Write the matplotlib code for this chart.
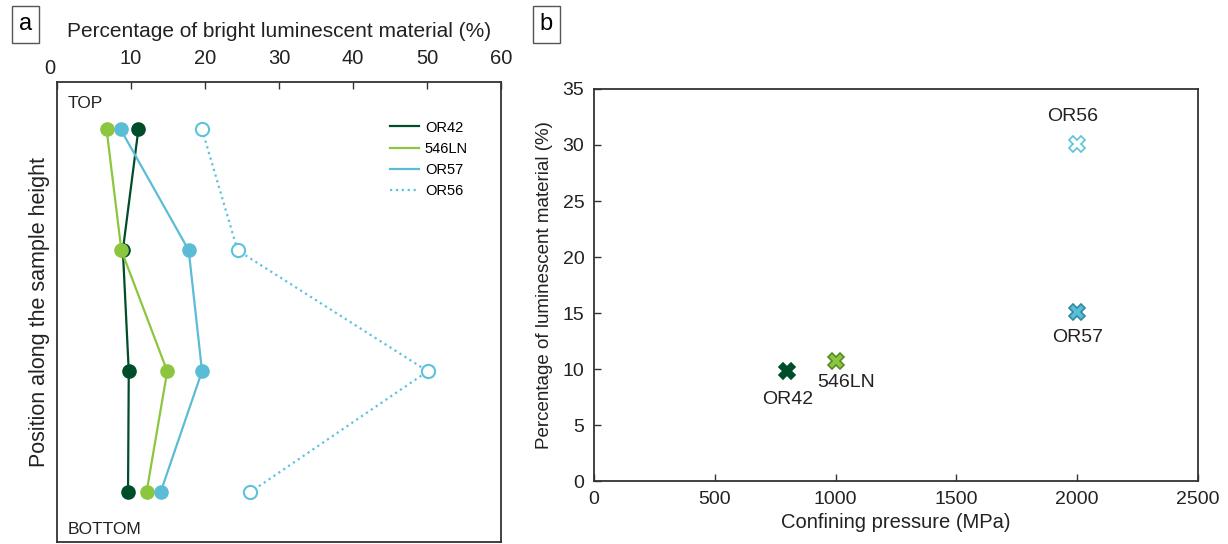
import matplotlib.pyplot as plt

plt.rcParams['font.family'] = ['Liberation Sans', 'DejaVu Sans']

# panel a: bright luminescent material along the sample height (top -> bottom)
positions = [0, 1, 2, 3]
or42_a = [11.0, 8.9, 9.7, 9.6]
ln546_a = [6.7, 8.7, 14.9, 12.1]
or57_a = [8.6, 17.8, 19.6, 14.0]
or56_a = [19.6, 24.4, 50.1, 26.1]

# panel b: mean percentage vs confining pressure
samples = ["OR42", "546LN", "OR57", "OR56"]
pressure = [800, 1000, 2000, 2000]
percent_b = [9.8, 10.7, 15.1, 30.1]

c_or42 = '#004d2a'
c_546 = '#8cc63e'
c_or57 = '#5bbdd5'
c_or56 = '#5cc3dc'
frame_c = '#333333'
txt_c = '#222222'

fig = plt.figure(figsize=(12.28, 5.44), dpi=100)

# ---- panel a
ax1 = fig.add_axes([0.0464, 0.004, 0.3616, 0.845])
ax1.plot(or42_a, positions, '-o', color=c_or42, lw=1.6, ms=9.5, label='OR42')
ax1.plot(ln546_a, positions, '-o', color=c_546, lw=1.6, ms=9.5, label='546LN')
ax1.plot(or57_a, positions, '-o', color=c_or57, lw=1.6, ms=9.5, label='OR57')
ax1.plot(or56_a, positions, ':o', color=c_or56, lw=1.6, ms=9.5,
         mfc='white', mec=c_or56, mew=1.5, label='OR56')
ax1.set_xlim(0, 60)
ax1.set_ylim(3.41, -0.39)
ax1.xaxis.tick_top()
ax1.set_xticks([0, 10, 20, 30, 40, 50, 60])
ax1.set_xticklabels(['', '10', '20', '30', '40', '50', '60'])
ax1.tick_params(axis='x', direction='in', length=5, width=1, pad=10,
                labelsize=14.5, colors=frame_c, labelcolor=txt_c)
ax1.set_yticks([])
# the zero label sits a bit lower and left of the others in the original
ax1.text(-0.016, 1.03, '0', transform=ax1.transAxes,
         fontsize=14.5, color=txt_c, ha='center', va='center')
ax1.set_xlabel('Percentage of bright luminescent material (%)', fontsize=15,
               labelpad=9, color=txt_c)
ax1.xaxis.set_label_position('top')
ax1.set_ylabel('Position along the sample height', fontsize=15.5,
               labelpad=5, color=txt_c)
ax1.text(0.025, 0.97, 'TOP', transform=ax1.transAxes, fontsize=12.5,
         va='top', ha='left', color=txt_c)
ax1.text(0.025, 0.01, 'BOTTOM', transform=ax1.transAxes, fontsize=12.5,
         va='bottom', ha='left', color=txt_c)
leg = ax1.legend(loc='upper right', bbox_to_anchor=(0.955, 0.945), frameon=False,
                 fontsize=10.5, handlelength=2.0, labelspacing=0.5,
                 handletextpad=0.4)
for line in leg.get_lines():
    line.set_marker('')
for s in ax1.spines.values():
    s.set_color(frame_c)
    s.set_linewidth(1.3)

# ---- panel b
ax2 = fig.add_axes([0.4837, 0.1158, 0.4919, 0.7206])
face = [c_or42, c_546, c_or57, 'white']
edge = [c_or42, '#5a8a2a', '#2f8aa5', c_or56]
for x, y, fc, ec in zip(pressure, percent_b, face, edge):
    ax2.plot(x, y, marker='X', ms=11.5, mfc=fc, mec=ec, mew=1.2, ls='')
label_offsets = {"OR42": (0, -2.5), "546LN": (45, -1.9),
                 "OR57": (0, -2.3), "OR56": (-20, 2.4)}
for name, x, y in zip(samples, pressure, percent_b):
    dx, dy = label_offsets[name]
    ax2.text(x + dx, y + dy, name, fontsize=14, ha='center', va='center',
             color=txt_c)
ax2.set_xlim(0, 2500)
ax2.set_ylim(0, 35)
ax2.set_xticks([0, 500, 1000, 1500, 2000, 2500])
ax2.set_yticks([0, 5, 10, 15, 20, 25, 30, 35])
ax2.tick_params(direction='in', length=5, width=1, labelsize=14,
                colors=frame_c, labelcolor=txt_c)
ax2.tick_params(axis='x', pad=7)
ax2.tick_params(axis='y', pad=7)
ax2.set_xlabel('Confining pressure (MPa)', fontsize=14.5, labelpad=4,
               color=txt_c)
ax2.set_ylabel('Percentage of luminescent material (%)', fontsize=13.5,
               labelpad=7, color=txt_c)
for s in ax2.spines.values():
    s.set_color(frame_c)
    s.set_linewidth(1.3)

# panel letters
box = dict(boxstyle='square,pad=0.3', fc='white', ec='#555555', lw=1)
fig.text(0.0205, 0.955, 'a', fontsize=17, ha='center', va='center', bbox=box)
fig.text(0.4449, 0.955, 'b', fontsize=17, ha='center', va='center', bbox=box)

fig.savefig('out.png', dpi=100)
